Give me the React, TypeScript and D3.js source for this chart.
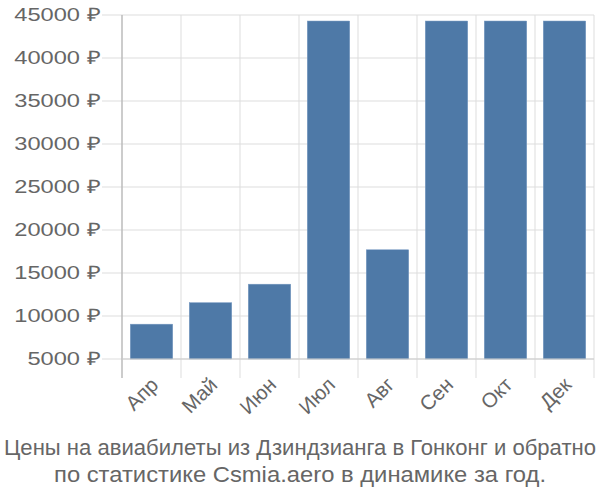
import React from "react";
import * as d3 from "d3";

const months = ["Апр", "Май", "Июн", "Июл", "Авг", "Сен", "Окт", "Дек"];
const prices = [9050, 11550, 13700, 44300, 17700, 44300, 44300, 44300];
const yTicks = [5000, 10000, 15000, 20000, 25000, 30000, 35000, 40000, 45000];
const titleLines = [
  "Цены на авиабилеты из Дзиндзианга в Гонконг и обратно",
  "по статистике Csmia.aero в динамике за год.",
];

export default function App() {
  const W = 600, H = 500;
  const left = 122, right = 594, top = 15, bottom = 359;
  const x = d3.scaleBand<string>().domain(months).range([left, right]).paddingInner(0.28).paddingOuter(0.14);
  const xg = d3.scaleBand<string>().domain(months).range([left, right]);
  const y = d3.scaleLinear().domain([5000, 45000]).range([bottom, top]);
  const font = "'Liberation Sans', Arial, sans-serif";
  const titleWidths = [592, 492];
  return (
    <svg width={W} height={H} style={{ position: "absolute", left: 0, top: 0 }} fontFamily={font}>
      {yTicks.map((t) => (
        <g key={t}>
          <line x1={102} x2={right} y1={y(t)} y2={y(t)} stroke="#ddd" strokeWidth={1} />
          <text transform={`translate(100,${y(t)}) scale(1.28,1)`} dy="0.35em" textAnchor="end" fontSize={18.5} fill="#666">
            {t} ₽
          </text>
        </g>
      ))}
      {months.map((m) => (
        <line key={m} x1={xg(m)!} x2={xg(m)!} y1={top} y2={378} stroke="#ddd" />
      ))}
      <line x1={right} x2={right} y1={top} y2={378} stroke="#ddd" />
      {months.map((m, i) => (
        <rect key={m} x={x(m)} y={y(prices[i])} width={x.bandwidth()} height={bottom - y(prices[i])}
          fill="#4e79a7" stroke="#7a9cc4" strokeWidth={0.5} />
      ))}
      <line x1={left} x2={left} y1={top} y2={378} stroke="#aaa" strokeWidth={1} />
      <line x1={left} x2={right} y1={bottom} y2={bottom} stroke="#ccc" />
      {months.map((m) => {
        const cx = xg(m)! + xg.bandwidth() / 2;
        return (
          <text key={m} transform={`translate(${cx + 3},${381}) rotate(-45)`} textAnchor="end"
            fontSize={20.5} fill="#666" dy="0.35em">
            {m}
          </text>
        );
      })}
      {titleLines.map((l, i) => (
        <text key={i} transform={`translate(300,${455 + i * 27}) scale(1,1.22)`} textAnchor="middle"
          fontSize={18} fill="#666" textLength={titleWidths[i]} lengthAdjust="spacingAndGlyphs">
          {l}
        </text>
      ))}
    </svg>
  );
}
